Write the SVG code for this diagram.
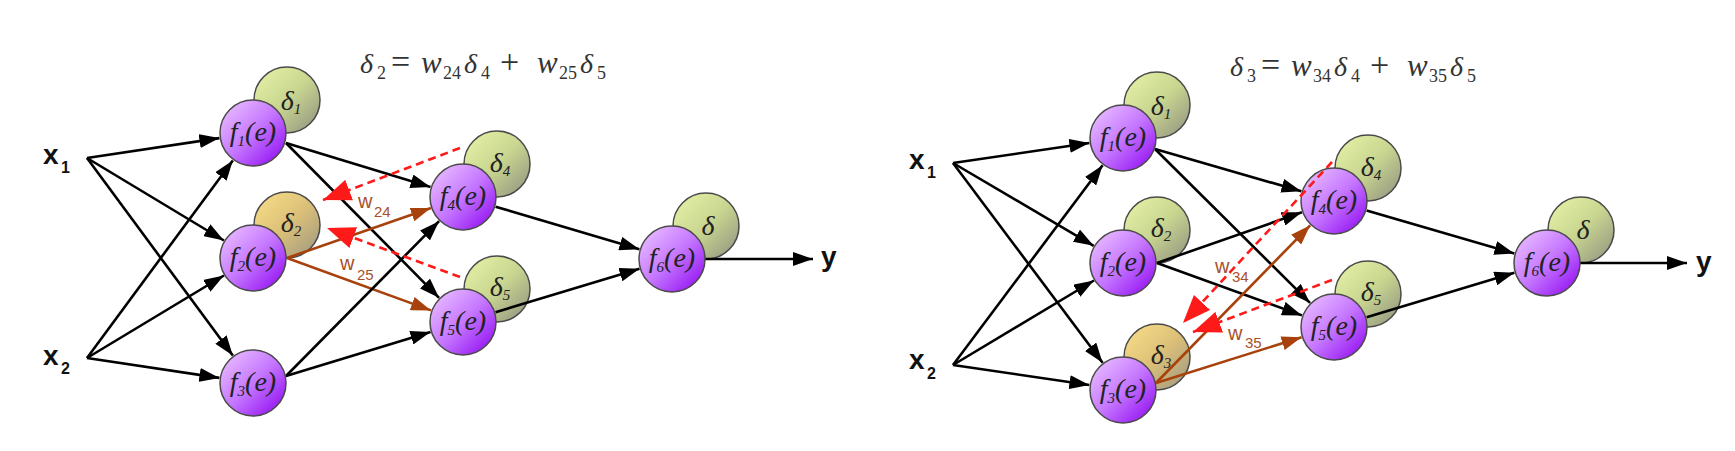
<svg xmlns="http://www.w3.org/2000/svg" width="1735" height="451" viewBox="0 0 1735 451">
<defs>
<linearGradient id="gP" x1="0" y1="0" x2="1" y2="1">
<stop offset="0" stop-color="#efc8ff"/><stop offset="0.5" stop-color="#c577ff"/><stop offset="1" stop-color="#8c00f0"/>
</linearGradient>
<linearGradient id="gG" x1="0" y1="0" x2="1" y2="1">
<stop offset="0" stop-color="#e8f4a8"/><stop offset="0.5" stop-color="#c9d690"/><stop offset="1" stop-color="#8e8e80"/>
</linearGradient>
<linearGradient id="gY" x1="0" y1="0" x2="1" y2="1">
<stop offset="0" stop-color="#fbe08a"/><stop offset="0.5" stop-color="#dcc078"/><stop offset="1" stop-color="#9a9682"/>
</linearGradient>
<marker id="aK" markerUnits="userSpaceOnUse" markerWidth="20" markerHeight="14" refX="20" refY="7" orient="auto"><path d="M0,0 L20,7 L0,14 z" fill="#000"/></marker>
<marker id="aB" markerUnits="userSpaceOnUse" markerWidth="20" markerHeight="14" refX="20" refY="7" orient="auto"><path d="M0,0 L20,7 L0,14 z" fill="#a8420c"/></marker>
<marker id="aR" markerUnits="userSpaceOnUse" markerWidth="28" markerHeight="22" refX="28" refY="11" orient="auto"><path d="M0,0 L28,11 L0,22 z" fill="#ff1a1a"/></marker>
</defs>
<style>
.f{fill:url(#gP);stroke:#4a4a4a;stroke-width:1.5}
.d{fill:url(#gG);stroke:#4a4a4a;stroke-width:1.5}
.dy{fill:url(#gY);stroke:#4a4a4a;stroke-width:1.5}
.nl{font-family:"Liberation Serif",serif;font-style:italic;font-size:28px;fill:#222;text-anchor:middle}
.ns{font-size:15px}
.e{stroke:#000;stroke-width:2.6;fill:none;marker-end:url(#aK)}
.b{stroke:#a8420c;stroke-width:2.6;fill:none;marker-end:url(#aB)}
.r{stroke:#ff1a1a;stroke-width:2.6;fill:none;stroke-dasharray:8 5;marker-end:url(#aR)}
.x{font-family:"Liberation Sans",sans-serif;font-weight:bold;font-size:28px;fill:#111}
.xs{font-family:"Liberation Sans",sans-serif;font-weight:bold;font-size:16px;fill:#111}
.wl{font-family:"Liberation Sans",sans-serif;font-size:20px;fill:#a8502a}
.ws{font-family:"Liberation Sans",sans-serif;font-size:15px;fill:#a8502a}
.eq{font-family:"Liberation Serif",serif;font-size:28px;fill:#333}
.it{font-style:italic}
.w{font-style:italic;font-size:31px}
.op{font-size:34px}
.sb{font-size:18px}
</style>

<!-- equations -->
<text class="eq" y="73"><tspan class="it" x="360">δ</tspan><tspan class="sb" x="377" dy="6">2</tspan><tspan class="op" x="391" dy="-6">=</tspan><tspan class="w" x="421">w</tspan><tspan class="sb" x="443" dy="6">24</tspan><tspan class="it" x="464" dy="-6">δ</tspan><tspan class="sb" x="481" dy="6">4</tspan><tspan class="op" x="500" dy="-6">+</tspan><tspan class="w" x="537">w</tspan><tspan class="sb" x="559" dy="6">25</tspan><tspan class="it" x="580" dy="-6">δ</tspan><tspan class="sb" x="597" dy="6">5</tspan></text>
<text class="eq" y="76"><tspan class="it" x="1230">δ</tspan><tspan class="sb" x="1247" dy="6">3</tspan><tspan class="op" x="1261" dy="-6">=</tspan><tspan class="w" x="1291">w</tspan><tspan class="sb" x="1313" dy="6">34</tspan><tspan class="it" x="1334" dy="-6">δ</tspan><tspan class="sb" x="1351" dy="6">4</tspan><tspan class="op" x="1370" dy="-6">+</tspan><tspan class="w" x="1407">w</tspan><tspan class="sb" x="1429" dy="6">35</tspan><tspan class="it" x="1450" dy="-6">δ</tspan><tspan class="sb" x="1467" dy="6">5</tspan></text>

<!-- input / output labels -->
<g id="in-left">
<text class="x" x="43" y="164">x</text><text class="xs" x="61" y="173">1</text>
<text class="x" x="43" y="365">x</text><text class="xs" x="61" y="374">2</text>
<text class="x" x="821" y="266">y</text>
</g>
<g id="in-right">
<text class="x" x="909" y="169">x</text><text class="xs" x="927" y="178">1</text>
<text class="x" x="909" y="369">x</text><text class="xs" x="927" y="379">2</text>
<text class="x" x="1696" y="271">y</text>
</g>

<!-- delta circles (left) -->
<g id="L-d1"><circle class="d" cx="287" cy="100" r="33"/><text class="nl" x="291" y="110">δ<tspan class="ns" dy="4">1</tspan></text></g>
<g id="L-d2"><circle class="dy" cx="287" cy="225" r="33"/><text class="nl" x="291" y="232">δ<tspan class="ns" dy="4">2</tspan></text></g>
<g id="L-d4"><circle class="d" cx="497" cy="164" r="33"/><text class="nl" x="500" y="172">δ<tspan class="ns" dy="4">4</tspan></text></g>
<g id="L-d5"><circle class="d" cx="497" cy="289" r="33"/><text class="nl" x="500" y="296">δ<tspan class="ns" dy="4">5</tspan></text></g>
<g id="L-d6"><circle class="d" cx="706" cy="226" r="33"/><text class="nl" x="708" y="235">δ</text></g>
<!-- delta circles (right) -->
<g id="R-d1"><circle class="d" cx="1157" cy="105" r="33"/><text class="nl" x="1161" y="115">δ<tspan class="ns" dy="4">1</tspan></text></g>
<g id="R-d2"><circle class="d" cx="1157" cy="230" r="33"/><text class="nl" x="1161" y="237">δ<tspan class="ns" dy="4">2</tspan></text></g>
<g id="R-d3"><circle class="dy" cx="1157" cy="357" r="33"/><text class="nl" x="1161" y="364">δ<tspan class="ns" dy="4">3</tspan></text></g>
<g id="R-d4"><circle class="d" cx="1368" cy="168" r="33"/><text class="nl" x="1371" y="176">δ<tspan class="ns" dy="4">4</tspan></text></g>
<g id="R-d5"><circle class="d" cx="1368" cy="294" r="33"/><text class="nl" x="1371" y="301">δ<tspan class="ns" dy="4">5</tspan></text></g>
<g id="R-d6"><circle class="d" cx="1581" cy="230" r="33"/><text class="nl" x="1583" y="239">δ</text></g>

<!-- connectors -->
<g id="connectors">
<line class="e" x1="87" y1="158" x2="219.4" y2="138.1"/>
<line class="e" x1="87" y1="158" x2="223.9" y2="240.5"/>
<line class="e" x1="87" y1="158" x2="232.8" y2="355.6"/>
<line class="e" x1="87" y1="358" x2="232.8" y2="160.4"/>
<line class="e" x1="87" y1="358" x2="223.9" y2="275.5"/>
<line class="e" x1="87" y1="358" x2="219.4" y2="377.9"/>
<line class="e" x1="286" y1="143" x2="430.5" y2="187.1"/>
<line class="e" x1="286" y1="143" x2="439.1" y2="297.8"/>
<line class="b" x1="287" y1="258" x2="430.9" y2="208.1"/>
<line class="b" x1="287" y1="258" x2="431" y2="310.4"/>
<line class="e" x1="286" y1="376" x2="439.1" y2="221.2"/>
<line class="e" x1="286" y1="376" x2="430.5" y2="331.9"/>
<line class="e" x1="495.6" y1="206.7" x2="639.4" y2="249.3"/>
<line class="e" x1="495.5" y1="312.2" x2="639.5" y2="268.8"/>
<line class="e" x1="705" y1="259" x2="813" y2="259"/>

<line class="e" x1="953" y1="163" x2="1089.4" y2="143"/>
<line class="e" x1="953" y1="163" x2="1093.7" y2="245.8"/>
<line class="e" x1="953" y1="163" x2="1102.6" y2="362.8"/>
<line class="e" x1="953" y1="365" x2="1102.6" y2="165.2"/>
<line class="e" x1="953" y1="365" x2="1093.9" y2="280.5"/>
<line class="e" x1="953" y1="365" x2="1089.4" y2="385"/>
<line class="e" x1="1155" y1="149" x2="1301.4" y2="191.3"/>
<line class="e" x1="1155" y1="149" x2="1310" y2="302.9"/>
<line class="e" x1="1157" y1="263" x2="1301.9" y2="212.3"/>
<line class="e" x1="1157" y1="263" x2="1302" y2="315.4"/>
<line class="b" x1="1156" y1="383" x2="1310.2" y2="225.3"/>
<line class="b" x1="1156" y1="383" x2="1301.6" y2="337.2"/>
<line class="e" x1="1366.6" y1="210.5" x2="1514.4" y2="253.5"/>
<line class="e" x1="1366.6" y1="317.2" x2="1514.4" y2="272.8"/>
<line class="e" x1="1580" y1="263" x2="1687" y2="263"/>
</g>

<!-- neuron nodes -->
<g id="L-f1"><circle class="f" cx="253" cy="133" r="33"/><text class="nl" x="253" y="141">f<tspan class="ns" dy="5">1</tspan><tspan dy="-5">(e)</tspan></text></g>
<g id="L-f2"><circle class="f" cx="253" cy="258" r="33"/><text class="nl" x="253" y="266">f<tspan class="ns" dy="5">2</tspan><tspan dy="-5">(e)</tspan></text></g>
<g id="L-f3"><circle class="f" cx="253" cy="383" r="33"/><text class="nl" x="253" y="391">f<tspan class="ns" dy="5">3</tspan><tspan dy="-5">(e)</tspan></text></g>
<g id="L-f4"><circle class="f" cx="463" cy="197" r="33"/><text class="nl" x="463" y="205">f<tspan class="ns" dy="5">4</tspan><tspan dy="-5">(e)</tspan></text></g>
<g id="L-f5"><circle class="f" cx="463" cy="322" r="33"/><text class="nl" x="463" y="330">f<tspan class="ns" dy="5">5</tspan><tspan dy="-5">(e)</tspan></text></g>
<g id="L-f6"><circle class="f" cx="672" cy="259" r="33"/><text class="nl" x="672" y="267">f<tspan class="ns" dy="5">6</tspan><tspan dy="-5">(e)</tspan></text></g>

<g id="R-f1"><circle class="f" cx="1123" cy="138" r="33"/><text class="nl" x="1123" y="146">f<tspan class="ns" dy="5">1</tspan><tspan dy="-5">(e)</tspan></text></g>
<g id="R-f2"><circle class="f" cx="1123" cy="263" r="33"/><text class="nl" x="1123" y="271">f<tspan class="ns" dy="5">2</tspan><tspan dy="-5">(e)</tspan></text></g>
<g id="R-f3"><circle class="f" cx="1123" cy="390" r="33"/><text class="nl" x="1123" y="398">f<tspan class="ns" dy="5">3</tspan><tspan dy="-5">(e)</tspan></text></g>
<g id="R-f4"><circle class="f" cx="1334" cy="201" r="33"/><text class="nl" x="1334" y="209">f<tspan class="ns" dy="5">4</tspan><tspan dy="-5">(e)</tspan></text></g>
<g id="R-f5"><circle class="f" cx="1334" cy="327" r="33"/><text class="nl" x="1334" y="335">f<tspan class="ns" dy="5">5</tspan><tspan dy="-5">(e)</tspan></text></g>
<g id="R-f6"><circle class="f" cx="1547" cy="263" r="33"/><text class="nl" x="1547" y="271">f<tspan class="ns" dy="5">6</tspan><tspan dy="-5">(e)</tspan></text></g>

<!-- backpropagation (error) connectors -->
<g id="backprop">
<line class="r" x1="460" y1="148" x2="323" y2="200"/>
<line class="r" x1="460" y1="277" x2="327" y2="228"/>
<line class="r" x1="1332" y1="162" x2="1183" y2="323"/>
<line class="r" x1="1332" y1="280" x2="1193" y2="332"/>
</g>

<!-- weight labels -->
<g id="weights">
<text class="wl" x="358" y="208">w</text><text class="ws" x="374" y="217">24</text>
<text class="wl" x="340" y="270">w</text><text class="ws" x="357" y="280">25</text>
<text class="wl" x="1215" y="273">w</text><text class="ws" x="1232" y="282">34</text>
<text class="wl" x="1228" y="340">w</text><text class="ws" x="1245" y="348">35</text>
</g>
</svg>
